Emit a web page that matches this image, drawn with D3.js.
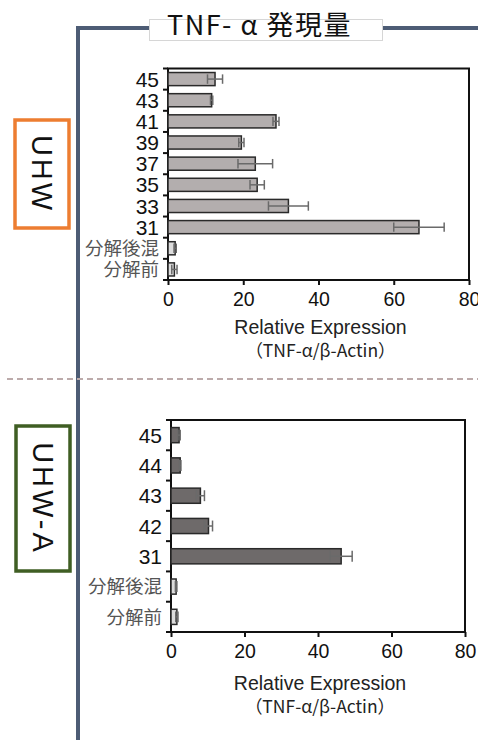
<!DOCTYPE html>
<html>
<head>
<meta charset="utf-8">
<script src="https://cdn.jsdelivr.net/npm/d3@7"></script>
<style>
  body { margin: 0; background: #fff; }
  svg { display: block; }
  text { font-family: "Liberation Sans", Arial, sans-serif; }
  .jp { font-family: "Noto Sans CJK JP", sans-serif; }
</style>
</head>
<body>
<svg id="chart" width="478" height="740"></svg>
<script>
// ---- data ----
var uhwCategories = ['45', '43', '41', '39', '37', '35', '33', '31', '分解後混', '分解前'];
var uhwValues = [12.5, 11.6, 28.7, 19.5, 23.2, 23.7, 32.0, 66.7, 1.9, 1.7];
var uhwErrors = [2.0, 0.3, 0.8, 0.7, 4.6, 1.9, 5.3, 6.7, 0.3, 0.7];

var uhwaCategories = ['45', '44', '43', '42', '31', '分解後混', '分解前'];
var uhwaValues = [2.2, 2.5, 8.0, 10.2, 46.3, 1.4, 1.6];
var uhwaErrors = [0.3, 0.2, 1.1, 1.1, 3.0, 0.2, 0.3];

var xTicks = [0, 20, 40, 60, 80];
var controls = ['分解後混', '分解前'];

var svg = d3.select('#chart');

// frame
var frameColor = '#4d5c75';
svg.append('path')
	.attr('d', 'M78,740 L78,28 L150,28 M383,28 L478,28')
	.attr('fill', 'none')
	.attr('stroke', frameColor)
	.attr('stroke-width', 4);

// dashed separator
svg.append('line')
	.attr('x1', 7).attr('x2', 478)
	.attr('y1', 379).attr('y2', 379)
	.attr('stroke', '#bcabab')
	.attr('stroke-width', 2)
	.attr('stroke-dasharray', '6,4');

// title
svg.append('rect')
	.attr('x', 149.5).attr('y', 19.5)
	.attr('width', 233).attr('height', 21)
	.attr('fill', '#fff')
	.attr('stroke', '#d6d6d6');
svg.append('text')
	.attr('class', 'jp')
	.attr('x', 167).attr('y', 35)
	.attr('font-size', 27)
	.attr('letter-spacing', 1.5)
	.attr('fill', '#111')
	.text('TNF-\u00a0α\u00a0発現量');

// group labels
function groupLabel(label, box, color) {
	svg.append('rect')
		.attr('x', box[0]).attr('y', box[1])
		.attr('width', box[2]).attr('height', box[3])
		.attr('fill', '#fff')
		.attr('stroke', color)
		.attr('stroke-width', 3.5);
	var cx = box[0] + box[2] / 2, cy = box[1] + box[3] / 2;
	svg.append('text')
		.attr('transform', 'translate(' + cx + ',' + cy + ') rotate(90)')
		.attr('text-anchor', 'middle')
		.attr('dy', '0.36em')
		.attr('font-size', 29)
		.attr('letter-spacing', 3)
		.attr('fill', '#111')
		.text(label);
}
groupLabel('UHW', [15, 120, 54, 108], '#ed7d31');
groupLabel('UHW-A', [16, 426, 54, 145], '#3f5e23');

function barChart(cfg) {
	var x = d3.scaleLinear().domain([0, 80]).range([cfg.left, cfg.right]);
	var y = d3.scaleBand().domain(cfg.categories)
		.range([cfg.top, cfg.bottom])
		.paddingInner(cfg.pad).paddingOuter(cfg.pad / 2);
	var g = svg.append('g');

	// plot frame
	g.append('rect')
		.attr('x', cfg.left).attr('y', cfg.top)
		.attr('width', cfg.right - cfg.left).attr('height', cfg.bottom - cfg.top)
		.attr('fill', 'none')
		.attr('stroke', '#111')
		.attr('stroke-width', 2);

	// bars
	g.selectAll('rect.bar').data(cfg.categories).enter().append('rect')
		.attr('class', 'bar')
		.attr('x', x(0))
		.attr('y', function (d) { return y(d); })
		.attr('width', function (d, i) { return x(cfg.values[i]) - x(0); })
		.attr('height', y.bandwidth())
		.attr('fill', function (d) { return controls.indexOf(d) >= 0 ? '#dcdcdc' : cfg.fill; })
		.attr('stroke', '#2a2a2a')
		.attr('stroke-width', 1.5);

	// error bars
	var err = g.selectAll('g.err').data(cfg.categories).enter().append('g')
		.attr('class', 'err')
		.attr('stroke', '#6a6a6a')
		.attr('stroke-width', 1.5);
	var cap = y.bandwidth() * 0.36;
	err.append('line')
		.attr('x1', function (d, i) { return x(cfg.values[i] - cfg.errors[i]); })
		.attr('x2', function (d, i) { return x(cfg.values[i] + cfg.errors[i]); })
		.attr('y1', function (d) { return y(d) + y.bandwidth() / 2; })
		.attr('y2', function (d) { return y(d) + y.bandwidth() / 2; });
	[-1, 1].forEach(function (s) {
		err.append('line')
			.attr('x1', function (d, i) { return x(cfg.values[i] + s * cfg.errors[i]); })
			.attr('x2', function (d, i) { return x(cfg.values[i] + s * cfg.errors[i]); })
			.attr('y1', function (d) { return y(d) + y.bandwidth() / 2 - cap; })
			.attr('y2', function (d) { return y(d) + y.bandwidth() / 2 + cap; });
	});

	// left axis boundary ticks
	var step = y.step();
	d3.range(cfg.categories.length + 1).forEach(function (i) {
		var yy = cfg.top + i * step;
		g.append('line')
			.attr('x1', cfg.left - 5).attr('x2', cfg.left)
			.attr('y1', yy).attr('y2', yy)
			.attr('stroke', '#111').attr('stroke-width', 2);
	});

	// category labels
	g.selectAll('text.cat').data(cfg.categories).enter().append('text')
		.attr('class', function (d) { return controls.indexOf(d) >= 0 ? 'cat jp' : 'cat'; })
		.attr('x', cfg.left - 9)
		.attr('y', function (d) { return y(d) + y.bandwidth() / 2; })
		.attr('dy', '0.36em')
		.attr('text-anchor', 'end')
		.attr('font-size', function (d) { return controls.indexOf(d) >= 0 ? 18.5 : 21; })
		.attr('fill', function (d) { return controls.indexOf(d) >= 0 ? '#555' : '#111'; })
		.text(function (d) { return d; });

	// x axis
	var xAxis = g.append('g')
		.attr('transform', 'translate(0,' + cfg.bottom + ')')
		.call(d3.axisBottom(x).tickValues(xTicks).tickSize(5).tickSizeOuter(0));
	xAxis.select('.domain').remove();
	xAxis.selectAll('.tick line').attr('stroke', '#111').attr('stroke-width', 2);
	xAxis.selectAll('.tick text')
		.attr('font-family', '"Liberation Sans", Arial, sans-serif')
		.attr('font-size', 19.5)
		.attr('fill', '#111')
		.attr('y', 12);

	g.append('text')
		.attr('x', (cfg.left + cfg.right) / 2 + 2)
		.attr('y', cfg.bottom + cfg.titleOffset)
		.attr('text-anchor', 'middle')
		.attr('font-size', 19.5)
		.attr('fill', '#222')
		.text('Relative Expression');
	g.append('text')
		.attr('class', 'jp')
		.attr('x', (cfg.left + cfg.right) / 2 + 2)
		.attr('y', cfg.bottom + cfg.titleOffset + 23)
		.attr('text-anchor', 'middle')
		.attr('font-size', 17.5)
		.attr('fill', '#222')
		.text('（TNF-α/β-Actin）');
}

barChart({
	categories: uhwCategories, values: uhwValues, errors: uhwErrors,
	left: 168, right: 469, top: 68.5, bottom: 280, pad: 0.38, fill: '#b3aeae', titleOffset: 54
});
barChart({
	categories: uhwaCategories, values: uhwaValues, errors: uhwaErrors,
	left: 171, right: 465, top: 420, bottom: 632, pad: 0.5, fill: '#6e6a6a', titleOffset: 58
});
</script>
</body>
</html>
